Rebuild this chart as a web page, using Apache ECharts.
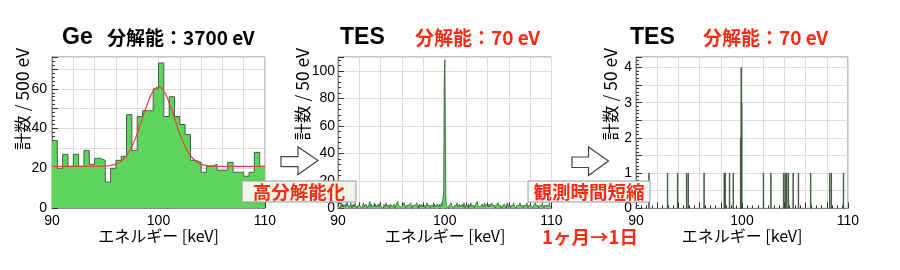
<!DOCTYPE html>
<html><head><meta charset="utf-8">
<script src="https://cdn.jsdelivr.net/npm/echarts/dist/echarts.min.js"></script>
<style>html,body{margin:0;padding:0;background:#fff}#c{width:900px;height:270px}</style>
</head><body><div id="c"></div>
<script>
// ---------- data ----------
// Ge detector: counts per 500 eV bin, 90–110 keV
const geBinStart = 90, geBinWidth = 0.5;
const geCounts = [34,20,27,21,27,21,29,22,25,24, 13,20,24,26,47,29,46,49,49,60,
                  73,46,56,46,42,37,24,23,18,21, 22,19,19,23,18,18,16,18,28,21];
// Gaussian fit curve
const geFitE   = [90,92,94,95,95.5,96,96.5,97,97.5,98,98.5,99,99.5,100,100.5,101,101.5,102,102.5,103,103.5,104,104.5,105,106,108,110];
const geFitVal = [21,21,21,21.2,21.4,22.1,23.6,26.4,31.0,37.4,45.3,53.0,58.8,61.0,58.8,53.0,45.3,37.4,31.0,26.4,23.6,22.1,21.4,21.2,21,21,21];
// TES (1 month): counts per 50 eV bin, 400 bins 90–110 keV
const tesBinStart = 90, tesBinWidth = 0.05;
const tesMonthCounts = [
 2,1,3,2,0,2,4,1,2,3, 1,2,2,0,3,1,2,5,2,1, 3,2,1,2,4,2,0,1,3,2, 2,1,4,2,1,3,0,2,2,3,
 1,2,3,1,2,0,2,3,4,1, 2,2,1,3,2,0,1,2,3,2, 5,1,2,3,1,0,2,2,4,1, 3,2,1,2,0,3,2,1,2,4,
 3,1,2,2,1,0,3,2,2,1, 4,2,3,1,2,2,0,1,3,2, 2,4,1,2,1,3,2,0,2,3, 1,2,5,2,1,2,3,1,0,2,
 2,3,1,2,4,2,1,0,2,3, 2,1,2,2,3,1,4,2,0,1, 2,3,2,2,1,3,1,2,4,2, 2,0,1,3,2,1,2,3,2,1,
 1,2,2,3,0,2,1,4,2,2, 3,1,2,0,2,3,1,2,2,4, 1,3,2,1,2,0,3,2,2,1, 3,2,1,2,4,2,1,3,12,92,
 108,60,8,2,1,3,2,0,2,3, 1,2,4,2,1,2,3,0,2,2, 1,3,2,4,1,2,2,0,3,1, 2,2,1,3,2,1,4,2,0,2,
 3,1,2,2,0,3,2,1,2,4, 2,1,3,2,2,0,1,2,3,1, 2,5,2,1,2,3,1,2,0,2, 3,2,1,2,2,4,1,0,2,3,
 2,2,1,3,1,2,0,2,4,2, 1,3,2,2,1,0,2,3,2,1, 4,2,1,2,3,2,0,1,2,3, 2,1,3,2,2,0,2,4,1,2,
 1,3,2,0,2,2,3,1,2,4, 2,1,2,3,0,2,1,2,2,3, 1,4,2,2,1,3,2,0,2,1, 3,2,2,1,4,2,0,2,3,1,
 2,2,3,1,2,0,2,1,3,2, 4,2,1,2,2,3,0,1,2,2, 3,1,2,4,2,1,0,2,3,2, 1,2,2,3,1,2,4,2,1,2
];
// TES (1 day): non-empty 50 eV bins
const tesDayBinStart = [91.20,92.95,93.90,94.75,94.90,96.40,98.30,98.40,98.80,99.15,99.85,99.90,99.95,
                        102.00,102.70,103.90,104.05,104.20,104.35,104.80,105.30,106.45,108.25,108.40,109.55];
const tesDayCounts   = [1,1,1,1,1,1,1,1,1,1,2,4,3, 1,1,1,1,1,1,1,1,1,1,1,1];
// axis ticks
const xLabels = [90,100,110];
const yLabelsGe = [0,20,40,60], yLabelsMonth = [0,20,40,60,80,100], yLabelsDay = [0,1,2,3,4];

// ---------- styling ----------
const GREEN = '#5dd55d', OUTLINE = '#505a50', RED = '#ff2a12';
const LAT = 'Liberation Sans', JP = '"Noto Sans CJK JP"';

function stepData(start, w, counts){
  const d = counts.map((c,i)=>[+(start+i*w).toFixed(3), c]);
  d.push([+(start+counts.length*w).toFixed(3), counts[counts.length-1]]);
  return d;
}

const grids = [
  {left:52, top:57, width:213, height:151},
  {left:338, top:57, width:213.5, height:151.3},
  {left:636, top:57, width:212, height:151.3}
];
function xAxis(i){
  return {gridIndex:i, type:'value', min:90, max:110, interval:2,
    axisLine:{show:true, lineStyle:{color:'#888'}},
    axisTick:{inside:true, length:6, lineStyle:{color:'#333'}},
    minorTick:{show:true, splitNumber:4, length:3, lineStyle:{color:'#333'}},
    splitLine:{show:true, lineStyle:{color:'#dcdcdc'}},
    axisLabel:{margin:6, fontSize:14, color:'#000', fontFamily:LAT,
      formatter:v=> xLabels.includes(Math.round(v*1000)/1000) ? String(v) : ''}};
}
function yAxis(i, max, interval, labels, margin){
  return {gridIndex:i, type:'value', min:0, max:max, interval:interval,
    axisLine:{show:true, lineStyle:{color:'#888'}},
    axisTick:{inside:true, length:6, lineStyle:{color:'#333'}},
    minorTick:{show:true, splitNumber:5, length:3, lineStyle:{color:'#333'}},
    splitLine:{show:true, lineStyle:{color:'#dcdcdc'}},
    axisLabel:{margin:margin, fontSize:14, color:'#000', fontFamily:LAT,
      formatter:v=> labels.includes(Math.round(v*1000)/1000) ? String(v) : ''}};
}

function txt(x,y,text,font,fill,align,extra){
  return Object.assign({type:'text', x:x, y:y, z:50,
    style:{text:text, font:font, fill:fill, align:align||'left', verticalAlign:'middle'}}, extra||{});
}
function arrow(pts){
  return {type:'polygon', z:60, shape:{points:pts}, style:{fill:'#fff', stroke:'#444', lineWidth:1.2}};
}
function box(x,y,w,h,bg,text){
  return [
    {type:'rect', z:70, shape:{x:x,y:y,width:w,height:h}, style:{fill:bg, stroke:'#9a9a9a', lineWidth:1}},
    {type:'text', z:71, x:x+w/2, y:y+h/2+0.5, style:{text:text, font:'bold 18.5px '+JP, fill:RED, align:'center', verticalAlign:'middle'}}
  ];
}

const option = {
  animation:false,
  grid: grids.map(g=>Object.assign({show:true, borderColor:'#888', borderWidth:1}, g)),
  xAxis:[xAxis(0), xAxis(1), xAxis(2)],
  yAxis:[yAxis(0,76,10,yLabelsGe,5), yAxis(1,110,20,yLabelsMonth,3), yAxis(2,4.3,0.5,yLabelsDay,4)],
  series:[
    {type:'line', xAxisIndex:0, yAxisIndex:0, step:'end', showSymbol:false, symbol:'none',
     data:stepData(geBinStart, geBinWidth, geCounts),
     lineStyle:{color:OUTLINE, width:1}, areaStyle:{color:GREEN, opacity:1}},
    {type:'line', xAxisIndex:0, yAxisIndex:0, smooth:true, showSymbol:false, symbol:'none',
     data:geFitE.map((e,i)=>[e, geFitVal[i]]), lineStyle:{color:'#e5463a', width:1.2}},
    {type:'line', xAxisIndex:1, yAxisIndex:1, step:'end', showSymbol:false, symbol:'none',
     data:stepData(tesBinStart, tesBinWidth, tesMonthCounts),
     lineStyle:{color:'#3d5a3d', width:0.8}, areaStyle:{color:GREEN, opacity:1}},
    {type:'custom', xAxisIndex:2, yAxisIndex:2,
     data:tesDayBinStart.map((e,i)=>[e, tesDayCounts[i]]),
     renderItem:function(params, api){
       const e = api.value(0), c = api.value(1);
       const p0 = api.coord([e, c]), p1 = api.coord([e + tesBinWidth, 0]);
       return {type:'rect', shape:{x:p0[0], y:p0[1], width:p1[0]-p0[0], height:p1[1]-p0[1]},
               style:{fill:GREEN, stroke:'#3a4a3a', lineWidth:0.8}};
     }}
  ],
  graphic:[
    txt(62,37.5,'Ge','bold 23px '+LAT,'#000'),
    txt(107,37.5,'分解能：3700 eV','bold 19px '+JP,'#000'),
    txt(340,37.5,'TES','bold 23px '+LAT,'#000'),
    txt(415,37.5,'分解能：70 eV','bold 19px '+JP,RED),
    txt(630,37.5,'TES','bold 23px '+LAT,'#000'),
    txt(703,37.5,'分解能：70 eV','bold 19px '+JP,RED),
    txt(22.5,48,'計数 / 500 eV','17.5px '+JP,'#000','right',{rotation:Math.PI/2}),
    txt(302.5,48,'計数 / 50 eV','17.5px '+JP,'#000','right',{rotation:Math.PI/2}),
    txt(610,48,'計数 / 50 eV','17.5px '+JP,'#000','right',{rotation:Math.PI/2}),
    txt(158.5,236,'エネルギー [keV]','16px '+JP,'#000','center'),
    txt(445,236,'エネルギー [keV]','16px '+JP,'#000','center'),
    txt(742,236,'エネルギー [keV]','16px '+JP,'#000','center'),
    arrow([[281,156.7],[298,156.7],[298,147],[318,160.5],[298,174.5],[298,166.7],[281,166.7]]),
    arrow([[572,157],[588.5,157],[588.5,147],[608.5,161],[588.5,175.5],[588.5,167.5],[572,167.5]]),
    ...box(242,181,114,21,'#eef7ea','高分解能化'),
    ...box(528,181,122,21,'#f8f8f8','観測時間短縮'),
    txt(590,237,'1ヶ月→1日','bold 18.5px '+JP,RED,'center')
  ]
};
echarts.init(document.getElementById('c'),null,{renderer:'canvas'}).setOption(option);
</script></body></html>
